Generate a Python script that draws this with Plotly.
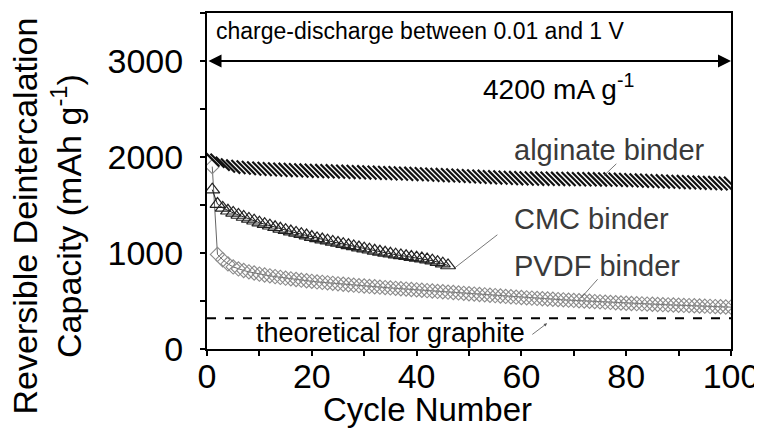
import plotly.graph_objects as go

# cycle-by-cycle reversible capacity (mAh/g)
alginate = [1975, 1960, 1930, 1912, 1900, 1895, 1890, 1886, 1881, 1878,
            1875, 1873, 1870, 1868, 1866, 1865, 1862, 1860, 1858, 1856,
            1855, 1853, 1851, 1850, 1848, 1847, 1845, 1843, 1842, 1840,
            1838, 1836, 1835, 1833, 1831, 1830, 1828, 1826, 1824, 1822,
            1820, 1818, 1816, 1813, 1811, 1809, 1807, 1805, 1803, 1800,
            1797, 1795, 1793, 1790, 1788, 1786, 1784, 1782, 1780, 1778,
            1777, 1776, 1775, 1775, 1774, 1773, 1772, 1771, 1771, 1770,
            1769, 1769, 1768, 1767, 1767, 1766, 1765, 1764, 1762, 1760,
            1758, 1756, 1754, 1752, 1750, 1748, 1746, 1744, 1742, 1740,
            1738, 1736, 1735, 1733, 1731, 1730, 1728, 1726, 1724, 1722]

cmc = [1660, 1510, 1470, 1440, 1418, 1396, 1375, 1355, 1336, 1316,
       1300, 1284, 1268, 1252, 1238, 1223, 1209, 1196, 1182, 1166,
       1152, 1140, 1128, 1116, 1104, 1092, 1080, 1068, 1057, 1045,
       1034, 1023, 1012, 1002, 992, 983, 975, 966, 958, 950,
       942, 932, 920, 905, 889, 870]

pvdf = [1900, 985, 930, 886, 855, 834, 818, 804, 792, 780,
        771, 762, 754, 746, 738, 731, 724, 717, 711, 705,
        699, 694, 689, 684, 679, 674, 669, 665, 660, 656,
        652, 648, 644, 640, 636, 632, 628, 624, 620, 616,
        612, 608, 604, 600, 596, 592, 588, 584, 580, 576,
        572, 568, 564, 560, 556, 552, 548, 544, 540, 536,
        533, 530, 527, 524, 521, 518, 515, 512, 509, 506,
        503, 500, 497, 494, 491, 488, 485, 482, 479, 476,
        474, 472, 470, 468, 466, 464, 462, 460, 458, 456,
        454, 452, 450, 448, 446, 444, 442, 440, 438, 436]

graphite_theoretical = 320
arrow_level = 3000

cyc_alg = list(range(1, len(alginate) + 1))
cyc_cmc = list(range(1, len(cmc) + 1))
cyc_pvdf = list(range(1, len(pvdf) + 1))

FONT = "Liberation Sans, Arial, sans-serif"
GREY = "#3a3a3a"

fig = go.Figure()

fig.add_hline(y=graphite_theoretical, line=dict(color="black", width=2, dash="dash"))

# PVDF - light open diamonds
fig.add_trace(go.Scatter(
    x=cyc_pvdf, y=pvdf, mode="lines+markers",
    line=dict(color="#666", width=1),
    marker=dict(symbol="diamond-open", size=11, color="#8a8a8a", line=dict(width=1.1)),
))

# CMC - open triangles
fig.add_trace(go.Scatter(
    x=cyc_cmc, y=cmc, mode="lines+markers",
    line=dict(color="#222", width=1),
    marker=dict(symbol="triangle-up-open", size=13, color="#222", line=dict(width=1.2)),
))

# alginate - dense hatched band
fig.add_trace(go.Scatter(
    x=cyc_alg, y=alginate, mode="markers",
    marker=dict(symbol="line-nw", size=14, color="#111", line=dict(width=2.2, color="#111")),
))

# double arrow at 3000
fig.add_annotation(x=100, y=arrow_level, ax=0, ay=arrow_level, axref="x", ayref="y",
                   xref="x", yref="y", text="", showarrow=True, arrowside="end+start",
                   arrowhead=2, arrowsize=1.3, arrowwidth=2, arrowcolor="black")

fig.add_annotation(x=1.4, y=3310, xref="x", yref="y", xanchor="left", yanchor="middle",
                   text="charge-discharge between 0.01 and 1 V", showarrow=False,
                   font=dict(size=23, color="black", family=FONT))
fig.add_annotation(x=52.3, y=2730, xref="x", yref="y", xanchor="left", yanchor="middle",
                   text="4200 mA g<sup>-1</sup>", showarrow=False,
                   font=dict(size=28, color="black", family=FONT))

labels = [("alginate binder", 58.2, 2075), ("CMC binder", 58.2, 1358), ("PVDF binder", 58.2, 867)]
for txt, lx, ly in labels:
    fig.add_annotation(x=lx, y=ly, xref="x", yref="y", xanchor="left", yanchor="middle",
                       text=txt, showarrow=False, font=dict(size=29, color=GREY, family=FONT))
fig.add_annotation(x=9.0, y=165, xref="x", yref="y", xanchor="left", yanchor="middle",
                   text="theoretical for graphite", showarrow=False,
                   font=dict(size=27, color="black", family=FONT))

# leader lines
leaders = [((75.8, 1808), (78.4, 1944), 0), ((47.3, 846), (55.7, 1202), 0),
           ((71.4, 533), (74.8, 742), 0), ((64.9, 268), (61.8, 140), 2)]
for (hx, hy), (tx, ty), head in leaders:
    fig.add_annotation(x=hx, y=hy, ax=tx, ay=ty, xref="x", yref="y", axref="x", ayref="y",
                       text="", showarrow=True, arrowhead=head, arrowsize=0.8,
                       arrowwidth=0.8, arrowcolor="#555")

# axis titles
fig.add_annotation(x=-0.305, y=0.395, xref="paper", yref="paper", textangle=-90,
                   text="Reversible Deintercalation<br>Capacity (mAh g<sup>-1</sup>)",
                   showarrow=False, xanchor="center", yanchor="middle",
                   font=dict(size=34, color="black", family=FONT))
fig.add_annotation(x=0.42, y=-0.18, xref="paper", yref="paper",
                   text="Cycle Number", showarrow=False, xanchor="center", yanchor="middle",
                   font=dict(size=33, color="black", family=FONT))

axis_common = dict(
    showline=True, linecolor="black", linewidth=2, mirror=True,
    ticks="outside", ticklen=5, tickwidth=1.5, tickcolor="black",
    showgrid=False, zeroline=False, automargin=False,
    tickfont=dict(size=34, color="black", family=FONT),
)

# the page body adds ~8px offset, so margins are trimmed by that amount
fig.update_layout(
    width=762, height=429,
    margin=dict(l=199, r=39, t=5, b=88),
    paper_bgcolor="white", plot_bgcolor="white",
    showlegend=False,
    font=dict(family=FONT, color="black"),
    xaxis=dict(range=[0, 100], dtick=20, ticklabelstandoff=-9,
               minor=dict(dtick=10, ticks="outside", ticklen=5, tickcolor="black"),
               **axis_common),
    yaxis=dict(range=[0, 3500], dtick=1000, ticklabelstandoff=10,
               minor=dict(dtick=500, ticks="outside", ticklen=5, tickcolor="black"),
               **axis_common),
)

fig.write_html("out.html")
